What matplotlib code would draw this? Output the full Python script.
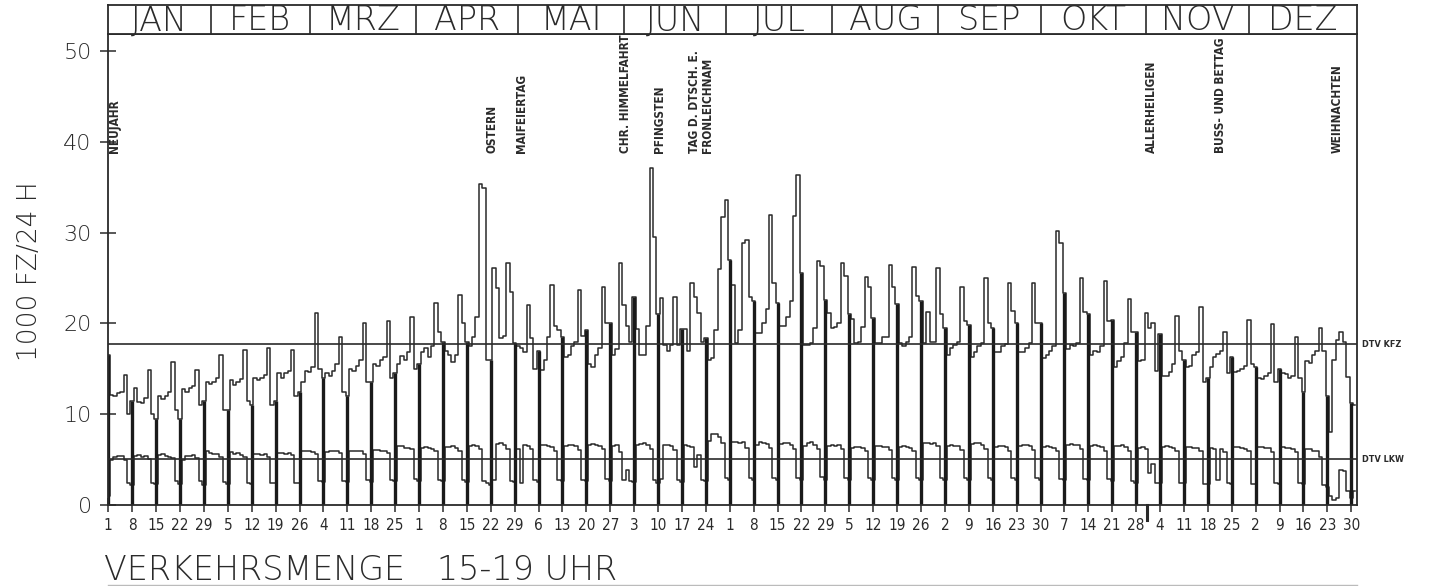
import matplotlib
matplotlib.use('Agg')
import matplotlib.pyplot as plt
import numpy as np

# ---------------- data (1984, weeks start on Sunday) ----------------
# KFZ 15-19 Uhr, 1000 Fz/24h, rows: [Sun, Mon, Tue, Wed, Thu, Fri, Sat]
kfz_weeks = [
    [16.5, 12.1, 12.0, 12.3, 12.4, 14.3, 10.0],
    [11.5, 12.9, 11.3, 11.2, 11.8, 14.9, 10.0],
    [9.5, 12.0, 11.7, 12.0, 12.5, 15.8, 10.5],
    [9.5, 12.8, 12.5, 12.9, 13.1, 14.9, 11.0],
    [11.5, 13.5, 13.3, 13.6, 14.0, 16.5, 10.5],
    [10.5, 13.8, 13.2, 13.5, 13.9, 17.1, 11.5],
    [11.0, 14.0, 13.8, 14.0, 14.3, 17.3, 11.0],
    [11.5, 14.5, 14.0, 14.5, 14.8, 17.1, 12.0],
    [12.5, 13.5, 14.8, 14.7, 15.2, 21.2, 15.0],
    [14.0, 14.5, 14.2, 14.8, 15.5, 18.5, 12.5],
    [12.0, 15.0, 14.8, 15.3, 16.0, 20.0, 13.5],
    [13.5, 15.5, 15.3, 16.0, 16.3, 20.3, 14.0],
    [14.5, 15.5, 16.4, 16.0, 16.8, 20.7, 15.0],
    [15.5, 16.8, 17.3, 16.3, 17.5, 22.3, 19.0],
    [18.0, 17.0, 16.5, 15.8, 16.5, 23.1, 20.0],
    [18.0, 17.5, 18.5, 20.7, 35.3, 34.9, 16.0],
    [16.0, 26.1, 23.9, 18.4, 18.6, 26.6, 23.5],
    [17.8, 17.5, 17.3, 16.8, 22.0, 18.4, 15.0],
    [17.0, 14.9, 16.0, 18.5, 24.2, 19.7, 19.3],
    [18.5, 16.3, 16.5, 17.5, 18.0, 23.7, 18.6],
    [19.3, 15.5, 15.2, 16.5, 17.3, 24.0, 20.0],
    [20.0, 16.5, 17.2, 26.6, 22.0, 19.7, 18.0],
    [22.9, 19.4, 16.5, 16.5, 19.7, 37.1, 29.5],
    [21.0, 22.8, 17.6, 17.0, 17.6, 22.9, 17.6],
    [19.4, 19.4, 17.0, 24.4, 22.9, 21.2, 18.0],
    [18.4, 16.0, 16.2, 19.3, 26.0, 31.7, 33.6],
    [27.0, 24.2, 17.8, 19.3, 28.9, 29.2, 22.9],
    [22.5, 18.9, 18.9, 20.0, 21.6, 31.9, 24.4],
    [22.2, 19.7, 19.7, 20.7, 22.5, 31.8, 36.3],
    [25.5, 17.6, 17.6, 17.8, 19.5, 26.9, 26.3],
    [22.6, 21.2, 19.5, 19.6, 20.0, 26.7, 25.2],
    [21.0, 20.5, 17.8, 18.0, 19.6, 25.1, 24.0],
    [20.6, 17.8, 17.8, 18.5, 18.5, 26.4, 24.0],
    [22.1, 17.8, 17.5, 18.0, 18.5, 26.2, 23.0],
    [22.5, 17.8, 21.3, 17.9, 18.0, 26.1, 21.0],
    [19.5, 16.5, 17.3, 17.6, 18.0, 24.0, 20.3],
    [19.8, 16.3, 16.8, 17.5, 17.8, 25.0, 20.0],
    [19.5, 16.8, 16.9, 17.5, 17.7, 24.5, 21.4],
    [20.0, 16.8, 16.9, 17.3, 17.8, 24.4, 20.0],
    [20.0, 16.2, 16.5, 17.0, 17.5, 30.2, 28.9],
    [23.4, 17.2, 17.6, 17.5, 17.8, 25.0, 21.3],
    [21.0, 16.5, 17.0, 16.8, 17.5, 24.7, 20.3],
    [20.4, 15.2, 15.9, 16.3, 17.8, 22.7, 19.0],
    [19.0, 15.9, 16.0, 21.1, 19.5, 20.0, 14.8],
    [18.8, 14.2, 14.2, 14.7, 15.5, 20.8, 17.0],
    [16.0, 15.2, 15.3, 16.5, 16.8, 21.8, 13.5],
    [14.0, 15.2, 16.3, 16.6, 17.0, 19.0, 14.5],
    [16.3, 14.7, 14.8, 15.0, 15.3, 20.4, 15.5],
    [15.2, 14.0, 13.9, 14.2, 14.5, 19.9, 13.5],
    [15.0, 14.5, 14.4, 14.0, 14.2, 18.5, 14.0],
    [12.5, 15.9, 15.6, 16.5, 17.0, 19.5, 17.0],
    [12.0, 8.0, 16.0, 18.2, 19.1, 18.0, 14.1],
    [11.2, 11.0],
]

# LKW 15-19 Uhr, same layout
lkw_weeks = [
    [1.0, 5.0, 5.3, 5.4, 5.4, 5.0, 2.4],
    [2.2, 5.4, 5.5, 5.3, 5.4, 5.1, 2.4],
    [2.3, 5.5, 5.6, 5.4, 5.3, 5.2, 2.6],
    [2.3, 5.0, 5.4, 5.4, 5.5, 5.2, 2.6],
    [2.2, 5.9, 5.7, 5.6, 5.6, 5.3, 2.5],
    [2.3, 5.8, 5.6, 5.7, 5.5, 5.3, 2.4],
    [2.3, 5.6, 5.6, 5.5, 5.6, 5.3, 2.4],
    [2.4, 5.7, 5.7, 5.6, 5.7, 5.5, 2.4],
    [2.4, 6.0, 6.0, 5.9, 5.8, 5.6, 2.6],
    [2.5, 5.8, 5.9, 5.9, 6.0, 5.7, 2.6],
    [2.5, 5.9, 5.9, 6.0, 5.9, 5.6, 2.7],
    [2.5, 6.1, 6.1, 6.0, 5.9, 5.7, 2.7],
    [2.6, 6.5, 6.5, 6.3, 6.3, 6.2, 2.9],
    [2.6, 6.3, 6.4, 6.3, 6.2, 6.0, 2.8],
    [2.6, 6.4, 6.4, 6.5, 6.3, 6.0, 2.8],
    [2.5, 6.5, 6.6, 6.5, 6.2, 2.6, 2.4],
    [2.2, 2.8, 6.7, 6.8, 6.6, 6.2, 2.6],
    [2.5, 6.2, 2.4, 6.6, 6.5, 6.2, 2.7],
    [2.5, 6.6, 6.6, 6.5, 6.4, 6.0, 2.8],
    [2.6, 6.5, 6.6, 6.6, 6.5, 6.1, 2.8],
    [2.6, 6.6, 6.7, 6.6, 6.5, 6.2, 2.9],
    [2.6, 6.5, 6.6, 5.8, 2.7, 3.8, 2.6],
    [2.5, 6.6, 6.7, 6.8, 6.6, 6.2, 2.8],
    [2.4, 2.9, 6.6, 6.6, 6.5, 6.1, 2.8],
    [2.5, 6.6, 6.5, 6.4, 4.2, 5.5, 2.7],
    [2.6, 7.0, 7.8, 7.8, 7.5, 6.8, 3.0],
    [2.8, 6.9, 6.9, 6.8, 6.9, 6.3, 3.0],
    [2.8, 6.6, 6.9, 6.8, 6.7, 6.3, 3.0],
    [2.8, 6.7, 6.8, 6.8, 6.6, 6.2, 3.0],
    [2.8, 6.5, 6.8, 6.9, 6.6, 6.2, 3.1],
    [2.8, 6.5, 6.6, 6.5, 6.6, 6.2, 3.0],
    [2.8, 6.3, 6.4, 6.4, 6.3, 6.0, 3.0],
    [2.8, 6.5, 6.5, 6.4, 6.4, 6.1, 3.0],
    [2.8, 6.4, 6.5, 6.4, 6.3, 6.0, 3.0],
    [2.8, 6.8, 6.8, 6.7, 6.8, 6.5, 3.0],
    [2.8, 6.5, 6.6, 6.5, 6.5, 6.1, 3.0],
    [2.8, 6.7, 6.8, 6.8, 6.6, 6.2, 3.0],
    [2.8, 6.4, 6.5, 6.5, 6.4, 6.0, 3.0],
    [2.8, 6.5, 6.6, 6.6, 6.5, 6.1, 3.0],
    [2.8, 6.4, 6.5, 6.4, 6.3, 6.0, 2.9],
    [2.8, 6.6, 6.7, 6.6, 6.6, 6.2, 2.9],
    [2.7, 6.5, 6.6, 6.5, 6.4, 6.0, 2.9],
    [2.6, 6.5, 6.5, 6.6, 6.4, 6.0, 2.6],
    [2.4, 6.3, 6.4, 6.2, 3.5, 4.5, 2.4],
    [2.4, 6.4, 6.5, 6.4, 6.3, 6.0, 2.4],
    [2.4, 6.4, 6.4, 6.3, 6.3, 5.9, 2.3],
    [2.3, 6.3, 6.2, 2.8, 6.2, 5.8, 2.4],
    [2.3, 6.4, 6.4, 6.3, 6.2, 5.9, 2.3],
    [2.3, 6.4, 6.4, 6.3, 6.3, 5.8, 2.4],
    [2.3, 6.4, 6.3, 6.3, 6.2, 5.8, 2.4],
    [2.3, 6.2, 6.2, 6.0, 5.9, 5.3, 2.2],
    [2.0, 1.0, 0.6, 0.8, 3.9, 3.7, 1.5],
    [0.8, 1.5],
]

dtv_kfz = 17.7
dtv_lkw = 5.05

month_names = ['JAN', 'FEB', 'MRZ', 'APR', 'MAI', 'JUN',
               'JUL', 'AUG', 'SEP', 'OKT', 'NOV', 'DEZ']
month_days = [31, 29, 31, 30, 31, 30, 31, 31, 30, 31, 30, 31]

tick_labels = ['1', '8', '15', '22', '29', '5', '12', '19', '26', '4', '11', '18', '25',
               '1', '8', '15', '22', '29', '6', '13', '20', '27', '3', '10', '17', '24',
               '1', '8', '15', '22', '29', '5', '12', '19', '26', '2', '9', '16', '23', '30',
               '7', '14', '21', '28', '4', '11', '18', '25', '2', '9', '16', '23', '30']

holidays = [
    (1.8, 'NEUJAHR'),
    (112.4, 'OSTERN'),
    (121.1, 'MAIFEIERTAG'),
    (151.6, 'CHR. HIMMELFAHRT'),
    (161.3, 'PFINGSTEN'),
    (173.6, 'TAG D. DTSCH. E.\nFRONLEICHNAM'),
    (305.6, 'ALLERHEILIGEN'),
    (325.8, 'BUSS- UND BETTAG'),
    (359.8, 'WEIHNACHTEN'),
]

# ---------------- drawing ----------------
kfz = np.array([v for w in kfz_weeks for v in w])
lkw = np.array([v for w in lkw_weeks for v in w])
days = np.arange(len(kfz))

ink = '#2a2a2a'
W, H = 1430, 586
fig = plt.figure(figsize=(W / 100, H / 100), dpi=100)
fig.patch.set_facecolor('white')

xl, xr = 108.3, 1356.7
ytop, ybot = 34.3, 505.0
ax = fig.add_axes([xl / W, 1 - ybot / H, (xr - xl) / W, (ybot - ytop) / H])
XMAX = 365.6
ax.set_xlim(0, XMAX)
ax.set_ylim(0, (ybot - ytop) / 9.08)

ax.step(days, kfz, where='mid', color=ink, lw=1.1)
ax.step(days, lkw, where='mid', color=ink, lw=1.1)
sun = days[::7]
ax.vlines(sun, 0, kfz[::7], color='#1a1a1a', lw=2.4)
ax.axhline(dtv_kfz, color=ink, lw=1.2)
ax.axhline(dtv_lkw, color=ink, lw=1.2)

for s in ax.spines.values():
    s.set_linewidth(1.3)
    s.set_color(ink)

ax.set_yticks([0, 10, 20, 30, 40, 50])
ax.tick_params(axis='y', direction='inout', length=12, width=1.1, colors=ink,
               labelsize=16, pad=6)
for t in ax.get_yticklabels():
    t.set_fontweight('light')
ax.set_xticks(sun)
ax.set_xticklabels(tick_labels, fontstretch='condensed')
ax.tick_params(axis='x', direction='inout', length=10, width=1.1, colors=ink,
               labelsize=11, pad=4)

for yv, lab in [(dtv_kfz, 'DTV KFZ'), (dtv_lkw, 'DTV LKW')]:
    ax.text(367.1, yv, lab, fontsize=6.5, fontweight='bold', fontstretch='condensed',
            va='center', ha='left', color=ink, clip_on=False)

for x, lab in holidays:
    ax.text(x, 38.8, lab, rotation=90, ha='center', va='bottom', multialignment='left',
            fontsize=8.5, fontweight='bold', fontstretch='condensed', linespacing=1.0,
            color=ink)

# small marker below the axis
ax.plot([304.2, 304.2], [0, -1.7], color=ink, lw=2.2, clip_on=False)

# header with month names
hax = fig.add_axes([xl / W, 1 - ytop / H, (xr - xl) / W, (ytop - 4.7) / H])
hax.set_xlim(0, XMAX)
hax.set_ylim(0, 1)
hax.set_xticks([])
hax.set_yticks([])
for s in hax.spines.values():
    s.set_linewidth(1.3)
    s.set_color(ink)
bounds = [0]
acc = 0
for d in month_days[:-1]:
    acc += d
    bounds.append(acc - 1)
bounds.append(XMAX)
for b in bounds[1:-1]:
    hax.axvline(b, color=ink, lw=1.2)
for i, name in enumerate(month_names):
    hax.text((bounds[i] + bounds[i + 1]) / 2, 0.45, name, ha='center', va='center',
             fontsize=24, color=ink, fontweight='light')

fig.text(30 / W, 1 - 271 / H, '1000 FZ/24 H', rotation=90, ha='center', va='center',
         fontsize=19, color=ink, fontweight='light')
fig.text(104 / W, 1 - 570 / H, 'VERKEHRSMENGE   15-19 UHR', ha='left', va='center',
         fontsize=24, color=ink, fontweight='light')
fig.add_artist(plt.Line2D([xl / W, xr / W], [1 - 585 / H, 1 - 585 / H],
                          color='#bbbbbb', lw=1.0))

fig.savefig('out.png', dpi=100, facecolor='white')
